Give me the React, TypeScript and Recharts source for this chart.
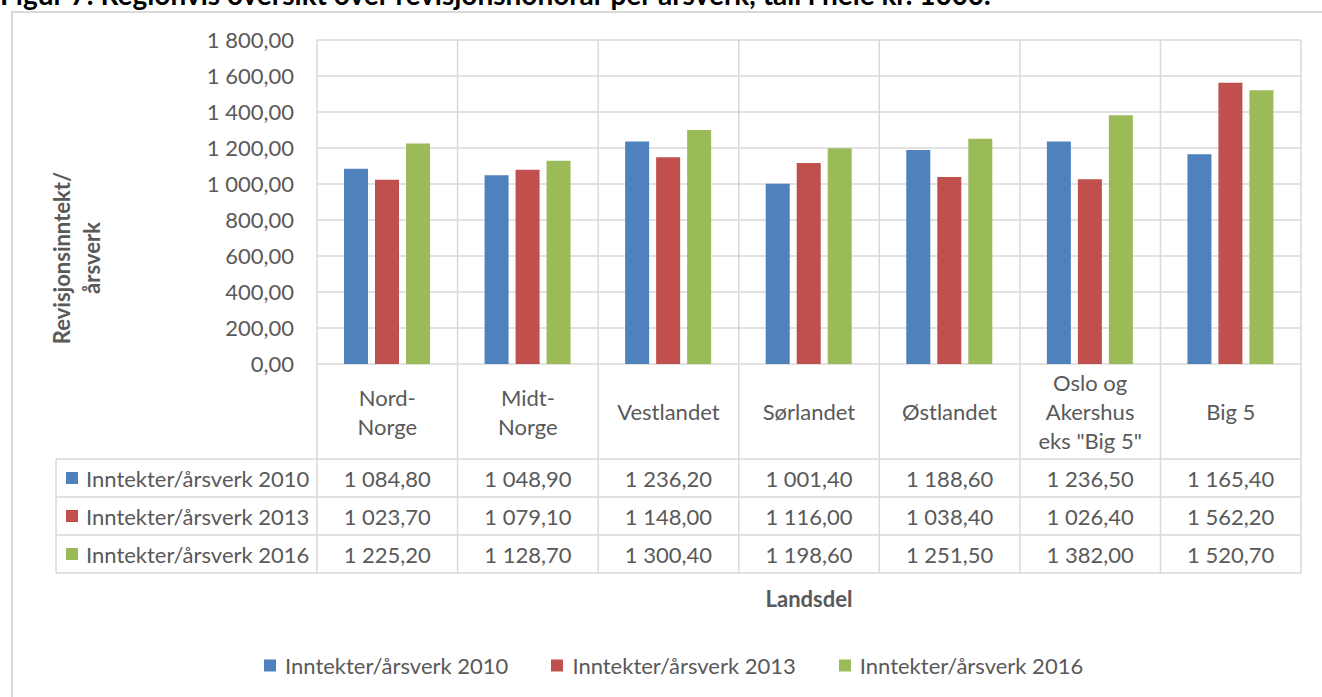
import { BarChart, Bar, XAxis, YAxis, CartesianGrid } from 'recharts';

// Landsdeler (linjeskift gir flere linjer i tabellhodet)
const regions = ['Nord-\nNorge', 'Midt-\nNorge', 'Vestlandet', 'Sørlandet', 'Østlandet', 'Oslo og\nAkershus\neks "Big 5"', 'Big 5'];
const inntekter2010 = [1084.8, 1048.9, 1236.2, 1001.4, 1188.6, 1236.5, 1165.4];
const inntekter2013 = [1023.7, 1079.1, 1148.0, 1116.0, 1038.4, 1026.4, 1562.2];
const inntekter2016 = [1225.2, 1128.7, 1300.4, 1198.6, 1251.5, 1382.0, 1520.7];
const seriesNames = ['Inntekter/årsverk 2010', 'Inntekter/årsverk 2013', 'Inntekter/årsverk 2016'];
const seriesColors = ['#4f81bd', '#c0504d', '#9bbb59'];
const yTicks = [0, 200, 400, 600, 800, 1000, 1200, 1400, 1600, 1800];

const seriesValues = [inntekter2010, inntekter2013, inntekter2016];
const data = regions.map((region, i) => ({
  region,
  v2010: inntekter2010[i],
  v2013: inntekter2013[i],
  v2016: inntekter2016[i],
}));

const FONT = 'Lato, "Open Sans", sans-serif';
const TEXT = '#595959';
const LINE = '#d9d9d9';
const FS = 22;

const PLOT_LEFT = 317;
const PLOT_RIGHT = 1301;
const PLOT_TOP = 40;
const PLOT_BOTTOM = 364;
const HEADER_H = 95;
const ROW_H = 38;
const ROW_LABEL_W = 261;

// 1 084,80
function fmt(v: number) {
  const [int, dec] = v.toFixed(2).split('.');
  return int.replace(/\B(?=(\d{3})+(?!\d))/g, '\u00a0') + ',' + dec;
}

function TableTick(props: any) {
  const { x, y, payload, index } = props;
  const band = (PLOT_RIGHT - PLOT_LEFT) / regions.length;
  const left = x - band / 2;
  const lines = String(payload.value).split('\n');
  const lineH = 29;
  const headMid = y + HEADER_H / 2;
  const tableBottom = y + HEADER_H + ROW_H * 3;

  return (
    <g>
      <line x1={left} x2={left} y1={y - (PLOT_BOTTOM - PLOT_TOP)} y2={tableBottom} stroke={LINE} strokeWidth={1.5} />
      {index === regions.length - 1 && (
        <line x1={left + band} x2={left + band} y1={y - (PLOT_BOTTOM - PLOT_TOP)} y2={tableBottom} stroke={LINE} strokeWidth={1.5} />
      )}
      {lines.map((t, i) => (
        <text key={i} x={x} y={headMid + (i - (lines.length - 1) / 2) * lineH} textAnchor="middle" dominantBaseline="central"
          fill={TEXT} fontSize={FS} fontFamily={FONT}>{t}</text>
      ))}
      {seriesValues.map((vals, r) => (
        <text key={r} x={x} y={y + HEADER_H + ROW_H * r + ROW_H / 2} textAnchor="middle" dominantBaseline="central"
          fill={TEXT} fontSize={FS} fontFamily={FONT}>{fmt(vals[index])}</text>
      ))}
      {index === 0 && (
        <g>
          <line x1={left - ROW_LABEL_W} x2={left - ROW_LABEL_W} y1={y + HEADER_H} y2={tableBottom} stroke={LINE} strokeWidth={1.5} />
          {[0, 1, 2, 3].map((r) => (
            <line key={r} x1={left - ROW_LABEL_W} x2={left + band * regions.length} y1={y + HEADER_H + ROW_H * r}
              y2={y + HEADER_H + ROW_H * r} stroke={LINE} strokeWidth={1.5} />
          ))}
          {seriesNames.map((name, r) => (
            <g key={name}>
              <rect x={left - ROW_LABEL_W + 10} y={y + HEADER_H + ROW_H * r + ROW_H / 2 - 6} width={12} height={12} fill={seriesColors[r]} />
              <text x={left - ROW_LABEL_W + 30} y={y + HEADER_H + ROW_H * r + ROW_H / 2} dominantBaseline="central"
                fill={TEXT} fontSize={FS} fontFamily={FONT}>{name}</text>
            </g>
          ))}
        </g>
      )}
    </g>
  );
}

export default function App() {
  return (
    <div style={{ position: 'relative', width: 1322, height: 697, overflow: 'hidden', background: '#fff', fontFamily: FONT }}>
      <style>{'body{margin:0;overflow:hidden}'}</style>
      <div style={{ position: 'absolute', left: 0, top: -23, fontSize: 28, fontWeight: 700, color: '#000', whiteSpace: 'nowrap' }}>
        Figur 7: Regionvis oversikt over revisjonshonorar per årsverk, tall i hele kr. 1000.
      </div>
      <div style={{ position: 'absolute', left: 11, top: 11, width: 1330, height: 700, border: `2px solid ${LINE}`, boxSizing: 'border-box' }} />

      <div style={{ position: 'absolute', left: 0, top: 0 }}>
        <BarChart width={1322} height={697} data={data} margin={{ top: PLOT_TOP, right: 1322 - PLOT_RIGHT, left: PLOT_LEFT - 80, bottom: 118 }}
          barSize={24} barGap={7}>
          <CartesianGrid vertical={false} stroke={LINE} strokeWidth={1.5} />
          <XAxis dataKey="region" interval={0} height={215} axisLine={false} tickLine={false} tickSize={0} tickMargin={0}
            tick={<TableTick />} />
          <YAxis width={80} domain={[0, 1800]} ticks={yTicks} axisLine={false} tickLine={false} tickSize={0} tickMargin={23}
            tickFormatter={fmt} tick={{ fill: TEXT, fontSize: FS, fontFamily: FONT }} />
          <Bar dataKey="v2010" name={seriesNames[0]} fill={seriesColors[0]} isAnimationActive={false} />
          <Bar dataKey="v2013" name={seriesNames[1]} fill={seriesColors[1]} isAnimationActive={false} />
          <Bar dataKey="v2016" name={seriesNames[2]} fill={seriesColors[2]} isAnimationActive={false} />
        </BarChart>
      </div>

      {/* aksetitler */}
      <div style={{ position: 'absolute', left: 77, top: 258, transform: 'translate(-50%, -50%) rotate(-90deg)', textAlign: 'center',
        fontSize: 22, fontWeight: 700, color: TEXT, lineHeight: '30px', whiteSpace: 'nowrap' }}>
        Revisjonsinntekt/<br />årsverk
      </div>
      <div style={{ position: 'absolute', left: 809, top: 598, transform: 'translate(-50%, -50%)', fontSize: 22, fontWeight: 700, color: TEXT }}>
        Landsdel
      </div>

      {/* forklaring */}
      <div style={{ position: 'absolute', left: 264, top: 665, transform: 'translateY(-50%)', display: 'flex', gap: 43 }}>
        {seriesNames.map((name, i) => (
          <div key={name} style={{ display: 'flex', alignItems: 'center', fontSize: FS, color: TEXT }}>
            <span style={{ display: 'inline-block', width: 12, height: 12, background: seriesColors[i], marginRight: 9 }} />
            {name}
          </div>
        ))}
      </div>
    </div>
  );
}
